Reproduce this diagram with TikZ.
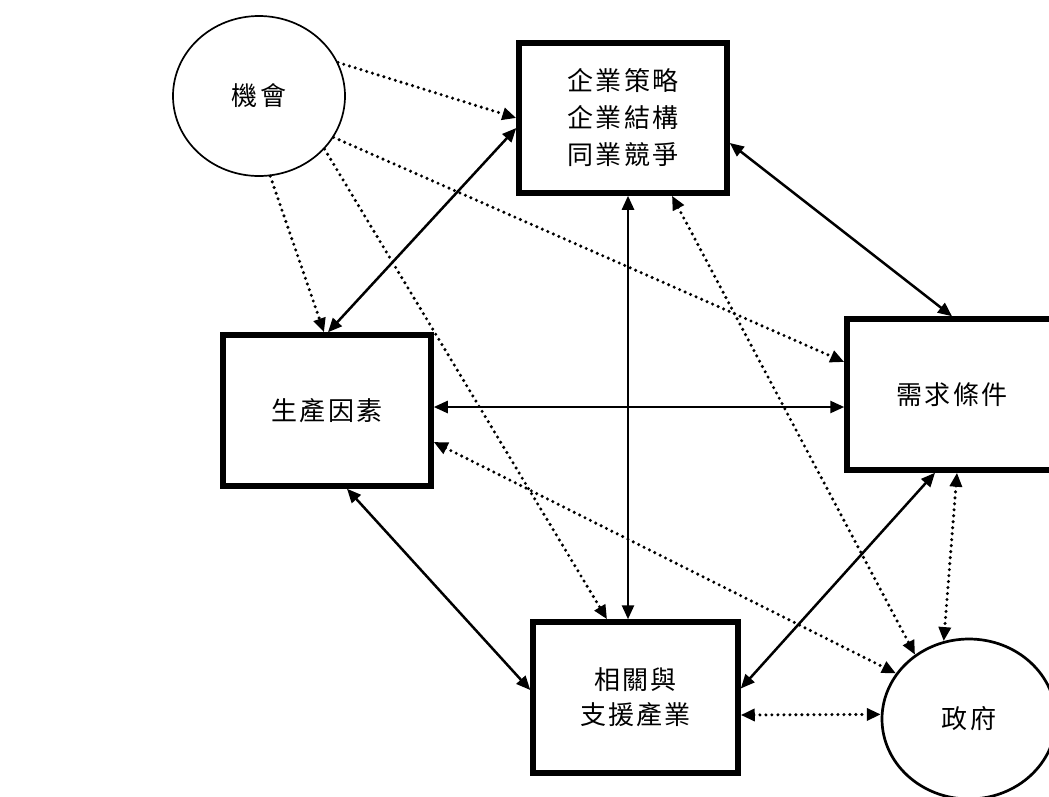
\documentclass[tikz,border=0pt]{standalone}
\usepackage{fontspec}
\newfontfamily\cjk[LetterSpace=8]{Noto Sans CJK TC}
\newcommand\cjktext{\cjk\fontsize{26}{37}\selectfont}
\usetikzlibrary{shapes.geometric,arrows.meta,calc}
\begin{document}
\begin{tikzpicture}[x=1pt,y=-1pt,
  box/.style={draw, line width=5.5pt, rectangle, inner sep=0pt, font=\cjktext, align=center},
  oval/.style={draw, ellipse, inner sep=0pt, font=\cjktext},
  tipboth/.style={{Triangle[length=14pt,width=12pt]}-{Triangle[length=14pt,width=12pt]}},
  solidarr/.style={line width=2.5pt, tipboth},
  dotline/.style={line width=3.4pt, line cap=round, dash pattern=on 0pt off 6pt},
  dotarr/.style={dotline, -{Triangle[length=14pt,width=12pt]}},
  dotdbl/.style={dotline, tipboth},
]
\useasboundingbox (0,0) rectangle (1049,796);
\clip (0,0) rectangle (1049,796);
\fill[white] (0,0) rectangle (1049,796);

\node[oval, minimum width=172pt, minimum height=160pt, line width=1.7pt] (chance) at (259,96) {機會};
\node[box, minimum width=208pt, minimum height=150pt] (strat) at (623,118) {企業策略\\企業結構\\同業競爭};
\node[box, minimum width=208pt, minimum height=151pt] (factor) at (327,410.5) {生產因素};
\node[box, minimum width=210pt, minimum height=151pt] (demand) at (952,394.5) {需求條件};
\node[box, minimum width=205pt, minimum height=151pt] (related) at (635.5,697.5) {\raisebox{-6pt}{\shortstack[c]{相關與\\[8pt]支援產業}}};
\node[oval, minimum width=174pt, minimum height=160pt, line width=2.7pt] (gov) at (969,719) {政府};

% solid double-headed connectors
\draw[solidarr] ([yshift=-10pt]strat.west) -- ([xshift=1pt]factor.north);
\draw[solidarr] ([xshift=5pt]strat.south) -- ([xshift=5pt]strat.south |- related.north);
\draw[solidarr] ([yshift=-25pt]strat.east) -- (demand.north);
\draw[solidarr] ([yshift=3.5pt]factor.east) -- ([yshift=3.5pt]factor.east -| demand.west);
\draw[solidarr] ([xshift=20pt]factor.south) -- ([yshift=7.5pt]related.west);
\draw[solidarr] ([xshift=-17pt]demand.south) -- ([yshift=9pt]related.east);

% dotted connectors from chance
\draw[dotarr] (chance.23) -- (strat.west);
\draw[dotarr] (chance.-82) -- ([xshift=-3pt]factor.north);
\draw[dotarr] (chance.-39) -- ([xshift=-28.5pt]related.north);
\draw[dotarr] (chance.-29) -- ([yshift=32.5pt]demand.west);

% dotted double-headed connectors with government
\draw[dotdbl] ([xshift=49pt]strat.south) -- (gov.130);
\draw[dotdbl] ([yshift=-31.5pt]factor.east) -- (gov.148);
\draw[dotdbl] ([xshift=5pt]demand.south) -- (gov.108);
\draw[dotdbl] ([yshift=-17.5pt]related.east) -- (gov.177);
\end{tikzpicture}
\end{document}
